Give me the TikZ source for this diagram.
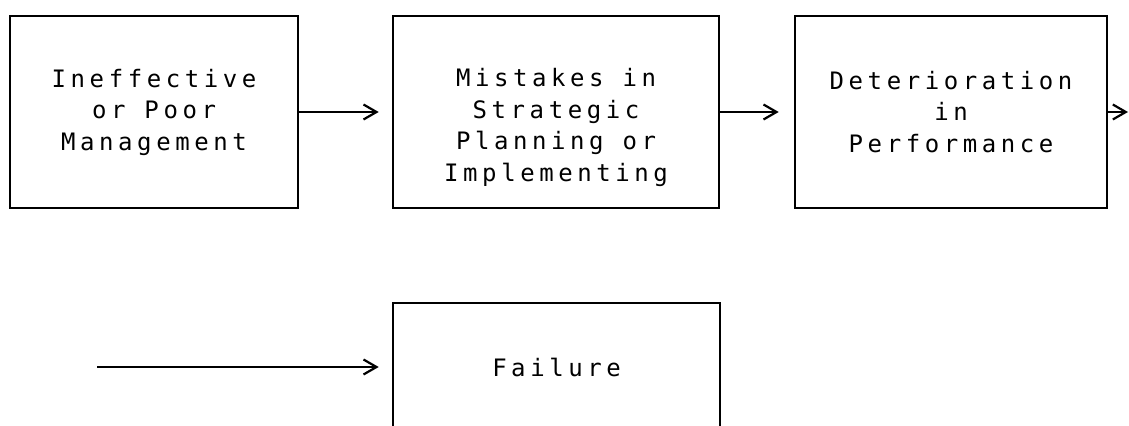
\documentclass[tikz,border=0pt]{standalone}
\usepackage{fontspec}
\newfontfamily\boxfont{DejaVu Sans Mono}[LetterSpace=19]
\usepackage{tikz}
\usetikzlibrary{arrows.meta}

\begin{document}
\begin{tikzpicture}[x=0.5pt,y=0.5pt,
  box/.style={draw,line width=1.3pt,inner sep=0pt,align=center,
    font=\boxfont\fontsize{12pt}{15.75pt}\selectfont},
  flow/.style={line width=1.1pt,-{Straight Barb[length=6.5pt,width=7.5pt,line width=1.1pt]}}]
\useasboundingbox (0,0) rectangle (1129,-426);
\clip (0,0) rectangle (1129,-426);
\node[box,minimum width=144pt,minimum height=96pt] (ineff) at (154,-112) {Ineffective\\or Poor\\Management};
\node[box,minimum width=163pt,minimum height=96pt,text height=72pt] (mist) at (556,-112) {Mistakes in\\Strategic\\Planning or\\Implementing};
\node[box,minimum width=156pt,minimum height=96pt] (deter) at (951,-112) {Deterioration\\in\\Performance};
\node[box,minimum width=163.5pt,minimum height=64pt] (fail) at (556.5,-367) {Failure};
\coordinate (out) at (1128,-112);
\coordinate (in) at (97,-367);
\draw[flow,shorten >=6.5pt] (ineff) -- (mist);
\draw[flow,shorten >=7.5pt] (mist) -- (deter);
\draw[flow] (deter.east) -- (out);
\draw[flow,shorten >=6.5pt] (in) -- (fail);
\end{tikzpicture}
\end{document}
